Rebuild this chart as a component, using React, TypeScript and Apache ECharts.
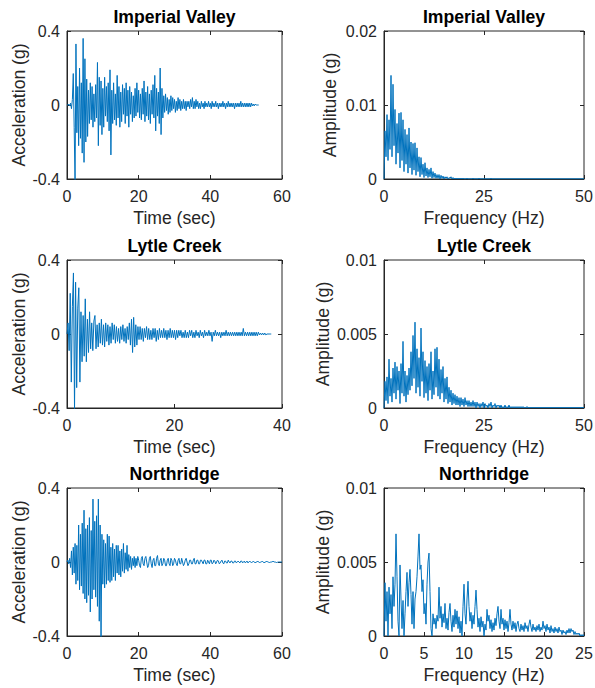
import React, { useEffect, useRef } from "react";
import * as echarts from "echarts";

// ---------- Data ----------
// Acceleration time histories, values in g, uniform sampling step in seconds
const ivAccelDt = 0.25;
const ivAccel = [
  0, 0, 0.005, -0.005, 0.01, -0.02, 0.03, 0.17, -0.12, -0.42,
  0.33, -0.15, 0.1, -0.22, 0.2, -0.18, 0.12, -0.26, 0.36, -0.31,
  0.25, -0.2, 0.14, -0.17, 0.08, -0.1, 0.12, -0.08, 0.1, -0.12,
  0.06, -0.09, 0.11, -0.07, 0.23, -0.22, 0.15, -0.11, 0.13, -0.16,
  0.09, -0.12, 0.15, -0.06, 0.1, -0.09, 0.12, -0.14, 0.19, -0.27,
  0.08, -0.1, 0.12, -0.08, 0.06, -0.11, 0.16, -0.07, 0.1, -0.12,
  0.07, -0.09, 0.11, -0.05, 0.09, -0.1, 0.12, -0.06, 0.08, -0.12,
  0.1, -0.05, 0.07, -0.09, 0.05, -0.07, 0.09, -0.06, 0.12, -0.04,
  0.08, -0.07, 0.06, -0.08, 0.09, -0.05, 0.13, -0.09, 0.07, -0.06,
  0.1, -0.08, 0.06, -0.1, 0.08, -0.05, 0.11, -0.07, 0.16, -0.14,
  0.09, -0.06, 0.07, -0.1, 0.2, -0.16, 0.09, -0.07, 0.05, -0.04,
  0.06, -0.03, 0.04, -0.05, 0.03, -0.04, 0.05, -0.03, 0.04, -0.02,
  0.03, -0.04, 0.02, -0.03, 0.04, -0.02, 0.03, -0.03, 0.02, -0.02,
  0.03, -0.02, 0.02, -0.03, 0.02, -0.01, 0.02, -0.02, 0.03, -0.01,
  0.04, -0.02, 0.02, -0.02, 0.03, -0.01, 0.02, -0.02, 0.01, -0.02,
  0.02, -0.01, 0.01, -0.02, 0.02, -0.01, 0.01, -0.01, 0.02, -0.01,
  0.01, -0.02, 0.02, -0.01, 0.01, -0.01, 0.02, -0.01, 0.01, -0.02,
  0.01, -0.01, 0.01, -0.01, 0.02, -0.01, 0.01, -0.02, 0.01, -0.01,
  0.02, -0.01, 0.01, -0.01, 0.01, -0.01, 0.01, -0.02, 0.01, -0.01,
  0.01, -0.01, 0.01, -0.01, 0.02, -0.01, 0.01, -0.01, 0.01, -0.01,
  0.01, -0.01, 0.01, -0.01, 0.01, -0.01, 0.01, -0.005, 0.005, -0.005,
  0.005, 0, 0, 0, 0,
];

const lcAccelDt = 0.2;
const lcAccel = [
  0, 0.06, -0.09, 0.22, -0.26, 0.15, 0.33, -0.41, 0.28, -0.29,
  0.14, 0.25, -0.26, 0.12, -0.15, 0.1, -0.12, 0.19, -0.15, 0.08,
  -0.1, 0.12, -0.08, 0.06, -0.09, 0.07, 0.1, -0.08, 0.05, -0.07,
  0.06, -0.05, 0.08, -0.06, 0.05, -0.07, 0.06, -0.04, 0.05, -0.06,
  0.04, -0.05, 0.06, -0.03, 0.05, -0.05, 0.04, -0.04, 0.03, -0.05,
  0.04, -0.03, 0.05, -0.04, 0.03, -0.05, 0.04, -0.03, 0.06, -0.06,
  0.08, -0.1, 0.09, -0.07, 0.05, -0.06, 0.04, -0.03, 0.04, -0.03,
  0.03, -0.04, 0.03, -0.02, 0.04, -0.03, 0.03, -0.03, 0.02, -0.03,
  0.03, -0.02, 0.03, -0.04, 0.02, -0.03, 0.03, -0.02, 0.02, -0.02,
  0.03, -0.02, 0.02, -0.03, 0.02, -0.02, 0.03, -0.02, 0.02, -0.02,
  0.02, -0.03, 0.02, -0.02, 0.02, -0.01, 0.02, -0.02, 0.01, -0.02,
  0.02, -0.02, 0.01, -0.02, 0.02, -0.01, 0.02, -0.02, 0.01, -0.02,
  0.02, -0.01, 0.01, -0.02, 0.02, -0.01, 0.01, -0.02, 0.02, -0.01,
  0.01, -0.01, 0.02, -0.01, 0.01, -0.04, 0.01, -0.01, 0.02, -0.01,
  0.01, -0.01, 0.01, -0.02, 0.01, -0.01, 0.01, -0.01, 0.02, -0.01,
  0.01, -0.01, 0.01, -0.01, 0.01, -0.01, 0.01, -0.01, 0.01, -0.01,
  0.01, -0.01, 0.01, -0.01, 0.03, -0.01, 0.01, -0.01, 0.01, -0.01,
  0.01, -0.01, 0.01, -0.01, 0.01, -0.01, 0.01, -0.01, 0.01, -0.005,
  0.005, -0.005, 0.005, -0.005, 0.005, -0.005, 0, 0, 0, 0,
  0,
];

const nrAccelDt = 0.25;
const nrAccel = [
  0, 0.01, -0.01, 0.02, -0.03, 0.06, -0.07, 0.08, -0.06, 0.1,
  -0.12, 0.09, -0.1, 0.2, -0.15, 0.15, -0.13, 0.21, -0.17, 0.28,
  -0.2, 0.18, -0.22, 0.2, -0.18, 0.24, -0.27, 0.17, -0.2, 0.34,
  -0.15, 0.22, -0.19, 0.25, -0.24, 0.34, -0.32, 0.2, -0.42, 0.15,
  -0.12, 0.12, -0.14, 0.1, -0.12, 0.15, -0.1, 0.14, -0.11, 0.08,
  -0.1, 0.1, -0.08, 0.07, -0.1, 0.09, -0.06, 0.09, -0.07, 0.06,
  -0.08, 0.07, -0.05, 0.1, -0.06, 0.05, -0.04, 0.09, -0.05, 0.04,
  -0.03, 0.03, -0.04, 0.02, -0.02, 0.03, -0.03, 0.02, -0.02, 0.03,
  0.01, -0.02, -0.03, 0.02, 0.03, -0.01, -0.02, 0.02, 0.03, 0,
  -0.03, -0.02, 0.02, 0.03, -0.01, -0.03, 0.01, 0.02, -0.02, -0.02,
  0.02, 0.035, -0.01, -0.02, 0.01, 0.02, -0.02, -0.01, 0.02, 0.01,
  -0.02, -0.02, 0.01, 0.02, -0.01, -0.02, 0.02, 0.01, -0.02, -0.01,
  0.02, 0.01, -0.01, -0.02, 0.01, 0.02, -0.01, -0.01, 0.02, 0,
  -0.02, -0.01, 0.01, 0.02, 0, -0.02, -0.01, 0.01, 0.01, -0.01,
  -0.01, 0.01, 0.02, -0.01, -0.01, 0.01, 0.01, -0.01, -0.01, 0.01,
  0.01, 0, -0.01, 0.01, 0.01, -0.01, -0.01, 0.01, 0, -0.01,
  0.01, 0.01, -0.01, -0.005, 0.01, 0.005, -0.01, 0, 0.01, 0.005,
  -0.01, -0.005, 0.005, 0.01, -0.005, -0.01, 0.005, 0.005, -0.005, -0.005,
  0.01, 0, -0.005, 0.005, 0.005, -0.005, -0.005, 0.005, 0.005, -0.005,
  0, 0.005, 0, -0.005, 0.005, 0.005, -0.005, 0, 0.005, -0.005,
  0, 0.005, -0.005, 0, 0.005, 0, -0.005, 0, 0.005, 0,
  -0.005, 0, 0, 0.005, 0, -0.005, 0, 0, 0.005, 0,
  -0.005, 0, 0, 0.005, 0, 0, -0.005, 0, 0, 0,
  0.005, 0, 0, 0, -0.005, 0, 0, 0, 0, 0,
  0,
];

// Fourier amplitude spectra, values in units of 1e-4 g, uniform frequency step in Hz
const specUnit = 1e-4;

const ivSpecDf = 0.25;
const ivSpec = [
  0, 65, 30, 87, 25, 80, 40, 140, 30, 128,
  45, 94, 20, 75, 35, 89, 15, 90, 25, 80,
  10, 67, 20, 60, 8, 69, 15, 50, 6, 48,
  12, 49, 5, 42, 10, 30, 3, 29, 6, 20,
  2, 22, 4, 15, 2, 13, 3, 15, 1, 10,
  2, 8, 1, 6, 1, 6, 0, 5, 1, 4,
  0, 3, 1, 3, 0, 2, 1, 3, 0, 2,
  0, 1, 0, 1, 0, 1, 0, 1, 0, 1,
  0, 0.5, 0, 1, 0, 0.5, 0, 0.5, 0, 1,
  0, 0.5, 0, 0.5, 0, 1, 0, 0.5, 0, 0.5,
  0, 0.5, 0, 0.5, 0, 0.5, 0, 1, 0, 0.5,
  0, 0.5, 0, 0.5, 0, 0.5, 0, 0.5, 0, 0.5,
  0, 0.5, 0, 0.5, 0, 0.5, 0, 0.5, 0, 0.5,
  0, 0.5, 0, 0.5, 0, 0.5, 0, 0.5, 0, 0.5,
  0, 0.5, 0, 0.5, 0, 0.5, 0, 0.5, 0, 0.5,
  0, 0.5, 0, 0.5, 0, 0.5, 0, 0.5, 0, 0.5,
  0, 0.5, 0, 0.5, 0, 0.5, 0, 0.5, 0, 0.5,
  0, 0.5, 0, 0.5, 0, 0.5, 0, 0.5, 0, 0.5,
  0, 0.5, 0, 0.5, 0, 0.5, 0, 0.5, 0, 0.5,
  0, 0.5, 0, 0.5, 0, 0.5, 0, 0.5, 0, 0.5,
  0,
];

const lcSpecDf = 0.25;
const lcSpec = [
  0, 18, 5, 21, 3, 33, 8, 20, 4, 27,
  10, 31, 6, 28, 12, 25, 3, 30, 10, 45,
  8, 25, 4, 22, 9, 27, 12, 38, 15, 49,
  20, 58, 10, 40, 14, 34, 8, 54, 18, 38,
  7, 32, 10, 28, 5, 30, 12, 38, 6, 25,
  9, 40, 14, 41, 8, 33, 6, 26, 10, 28,
  4, 20, 6, 21, 3, 14, 4, 12, 2, 10,
  3, 9, 2, 8, 2, 7, 1, 7, 2, 6,
  1, 7, 2, 5, 1, 5, 1, 4, 1, 5,
  1, 4, 0, 4, 1, 3, 0, 3, 1, 4,
  0, 3, 1, 2, 0, 3, 1, 4, 0, 2,
  1, 3, 0, 2, 1, 2, 0, 2, 0, 1,
  0, 2, 0, 1, 0, 2, 0, 1, 0, 1,
  0, 1, 0, 1, 0, 1, 0, 1, 0, 1,
  0, 0.5, 0, 1, 0, 0.5, 0, 0.5, 0, 0.5,
  0, 0.5, 0, 0.5, 0, 0.5, 0, 0.5, 0, 0.5,
  0, 0.5, 0, 0.5, 0, 0.5, 0, 0.5, 0, 0.5,
  0, 0.5, 0, 0.5, 0, 0.5, 0, 0.5, 0, 0.5,
  0, 0.5, 0, 0.5, 0, 0.5, 0, 0.5, 0, 0.5,
  0, 0.5, 0, 0.5, 0, 0.5, 0, 0.5, 0, 0.5,
  0,
];

const nrSpecDf = 0.125;
const nrSpec = [
  0, 36, 10, 30, 0, 33, 15, 28, 5, 40,
  20, 35, 69, 40, 10, 0, 48, 25, 5, 24,
  0, 15, 30, 43, 20, 36, 45, 28, 8, 30,
  5, 25, 30, 40, 54, 69, 45, 48, 30, 38,
  15, 22, 8, 35, 50, 56, 30, 5, 0, 15,
  8, 12, 5, 14, 10, 33, 12, 20, 6, 15,
  9, 22, 5, 12, 4, 16, 22, 10, 3, 14,
  6, 18, 8, 17, 5, 13, 2, 10, 0, 20,
  35, 15, 8, 25, 37, 20, 10, 16, 5, 14,
  8, 20, 31, 18, 6, 12, 3, 13, 6, 10,
  0, 8, 4, 18, 10, 14, 5, 11, 3, 9,
  4, 12, 7, 15, 20, 10, 5, 18, 8, 12,
  4, 11, 5, 10, 3, 9, 18, 8, 4, 10,
  5, 9, 3, 8, 10, 5, 3, 8, 4, 7,
  3, 9, 5, 7, 3, 8, 11, 6, 3, 8,
  4, 6, 3, 7, 4, 8, 3, 6, 4, 10,
  5, 7, 3, 8, 4, 6, 2, 7, 3, 5,
  2, 6, 3, 5, 2, 6, 3, 4, 1, 4,
  2, 3, 1, 4, 2, 5, 2, 5, 3, 4,
  1, 3, 1, 2, 1, 2, 0, 1, 0, 1,
  0,
];

// Titles and axis labels
const titles = ["Imperial Valley", "Imperial Valley", "Lytle Creek", "Lytle Creek", "Northridge", "Northridge"];
const timeLabel = "Time (sec)";
const freqLabel = "Frequency (Hz)";
const accLabel = "Acceleration (g)";
const ampLabel = "Amplitude (g)";

// ---------- Styling ----------
const FONT = "'Liberation Sans', Arial, Helvetica, sans-serif";
const INK = "#262626";
const LINE = "#0072BD";

function pairs(vals: number[], step: number, scale = 1) {
  return vals.map((v, i) => [Number((i * step).toFixed(4)), v * scale]);
}

type Panel = {
  title: string;
  xName: string;
  yName: string;
  xMax: number;
  xInterval: number;
  yMin: number;
  yMax: number;
  yInterval: number;
  left: number;
  top: number;
  width: number;
  height: number;
  yNameGap: number;
  data: number[][];
};

const ROW_TOPS = [31, 260, 488];
const H = 148;

const panels: Panel[] = [
  { title: titles[0], xName: timeLabel, yName: accLabel, xMax: 60, xInterval: 20, yMin: -0.4, yMax: 0.4, yInterval: 0.4,
    left: 67, top: ROW_TOPS[0], width: 215, height: H, yNameGap: 39, data: pairs(ivAccel, ivAccelDt) },
  { title: titles[1], xName: freqLabel, yName: ampLabel, xMax: 50, xInterval: 25, yMin: 0, yMax: 0.02, yInterval: 0.01,
    left: 384, top: ROW_TOPS[0], width: 200, height: H, yNameGap: 45, data: pairs(ivSpec, ivSpecDf, specUnit) },
  { title: titles[2], xName: timeLabel, yName: accLabel, xMax: 40, xInterval: 20, yMin: -0.4, yMax: 0.4, yInterval: 0.4,
    left: 67, top: ROW_TOPS[1], width: 215, height: H, yNameGap: 39, data: pairs(lcAccel, lcAccelDt) },
  { title: titles[3], xName: freqLabel, yName: ampLabel, xMax: 50, xInterval: 25, yMin: 0, yMax: 0.01, yInterval: 0.005,
    left: 384, top: ROW_TOPS[1], width: 200, height: H, yNameGap: 52, data: pairs(lcSpec, lcSpecDf, specUnit) },
  { title: titles[4], xName: timeLabel, yName: accLabel, xMax: 60, xInterval: 20, yMin: -0.4, yMax: 0.4, yInterval: 0.4,
    left: 67, top: ROW_TOPS[2], width: 215, height: H, yNameGap: 39, data: pairs(nrAccel, nrAccelDt) },
  { title: titles[5], xName: freqLabel, yName: ampLabel, xMax: 25, xInterval: 5, yMin: 0, yMax: 0.01, yInterval: 0.005,
    left: 384, top: ROW_TOPS[2], width: 200, height: H, yNameGap: 52, data: pairs(nrSpec, nrSpecDf, specUnit) },
];

function buildOption() {
  const tick = { show: true, inside: true, length: 4, lineStyle: { color: INK, width: 1 } };
  const tickLabel = { fontSize: 16, color: INK, fontFamily: FONT };
  const nameLabel = { fontSize: 17.6, color: INK, fontFamily: FONT };
  const xAxis: any[] = [];
  const yAxis: any[] = [];
  panels.forEach((p, i) => {
    xAxis.push({
      type: "value", gridIndex: i, position: "bottom", min: 0, max: p.xMax, interval: p.xInterval,
      name: p.xName, nameLocation: "middle", nameGap: 30, nameTextStyle: { ...nameLabel },
      axisLine: { show: true, onZero: false, lineStyle: { color: INK, width: 1 } },
      axisTick: tick, axisLabel: { show: true, margin: 9, ...tickLabel }, splitLine: { show: false },
    });
    xAxis.push({
      type: "value", gridIndex: i, position: "top", min: 0, max: p.xMax, interval: p.xInterval,
      name: p.title, nameLocation: "middle", nameGap: 5,
      nameTextStyle: { fontSize: 17.6, fontWeight: "bold", color: "#000", fontFamily: FONT },
      axisLine: { show: false, onZero: false }, axisTick: tick, axisLabel: { show: false }, splitLine: { show: false },
    });
    yAxis.push({
      type: "value", gridIndex: i, position: "left", min: p.yMin, max: p.yMax, interval: p.yInterval,
      name: p.yName, nameLocation: "middle", nameRotate: 90, nameGap: p.yNameGap, nameTextStyle: { ...nameLabel },
      axisLine: { show: true, onZero: false, lineStyle: { color: INK, width: 1 } },
      axisTick: tick, axisLabel: { show: true, margin: 7, ...tickLabel }, splitLine: { show: false },
    });
    yAxis.push({
      type: "value", gridIndex: i, position: "right", min: p.yMin, max: p.yMax, interval: p.yInterval,
      axisLine: { show: false, onZero: false }, axisTick: tick, axisLabel: { show: false }, splitLine: { show: false },
    });
  });
  return {
    animation: false,
    backgroundColor: "#ffffff",
    textStyle: { fontFamily: FONT },
    grid: panels.map((p) => ({
      left: p.left, top: p.top, width: p.width, height: p.height,
      show: true, borderColor: INK, borderWidth: 1, backgroundColor: "#ffffff",
      containLabel: false, outerBoundsMode: "none",
    })),
    xAxis,
    yAxis,
    series: panels.map((p, i) => ({
      type: "line", xAxisIndex: 2 * i, yAxisIndex: 2 * i, data: p.data,
      showSymbol: false, symbol: "none", clip: true, silent: true,
      lineStyle: { color: LINE, width: 1 },
    })),
  };
}

export default function App() {
  const ref = useRef<HTMLDivElement>(null);
  useEffect(() => {
    document.body.style.margin = "0";
    if (!ref.current) return;
    const chart = echarts.init(ref.current, undefined, { renderer: "svg" });
    chart.setOption(buildOption() as any);
    return () => chart.dispose();
  }, []);
  return <div ref={ref} style={{ width: 595, height: 688, background: "#fff" }} />;
}
